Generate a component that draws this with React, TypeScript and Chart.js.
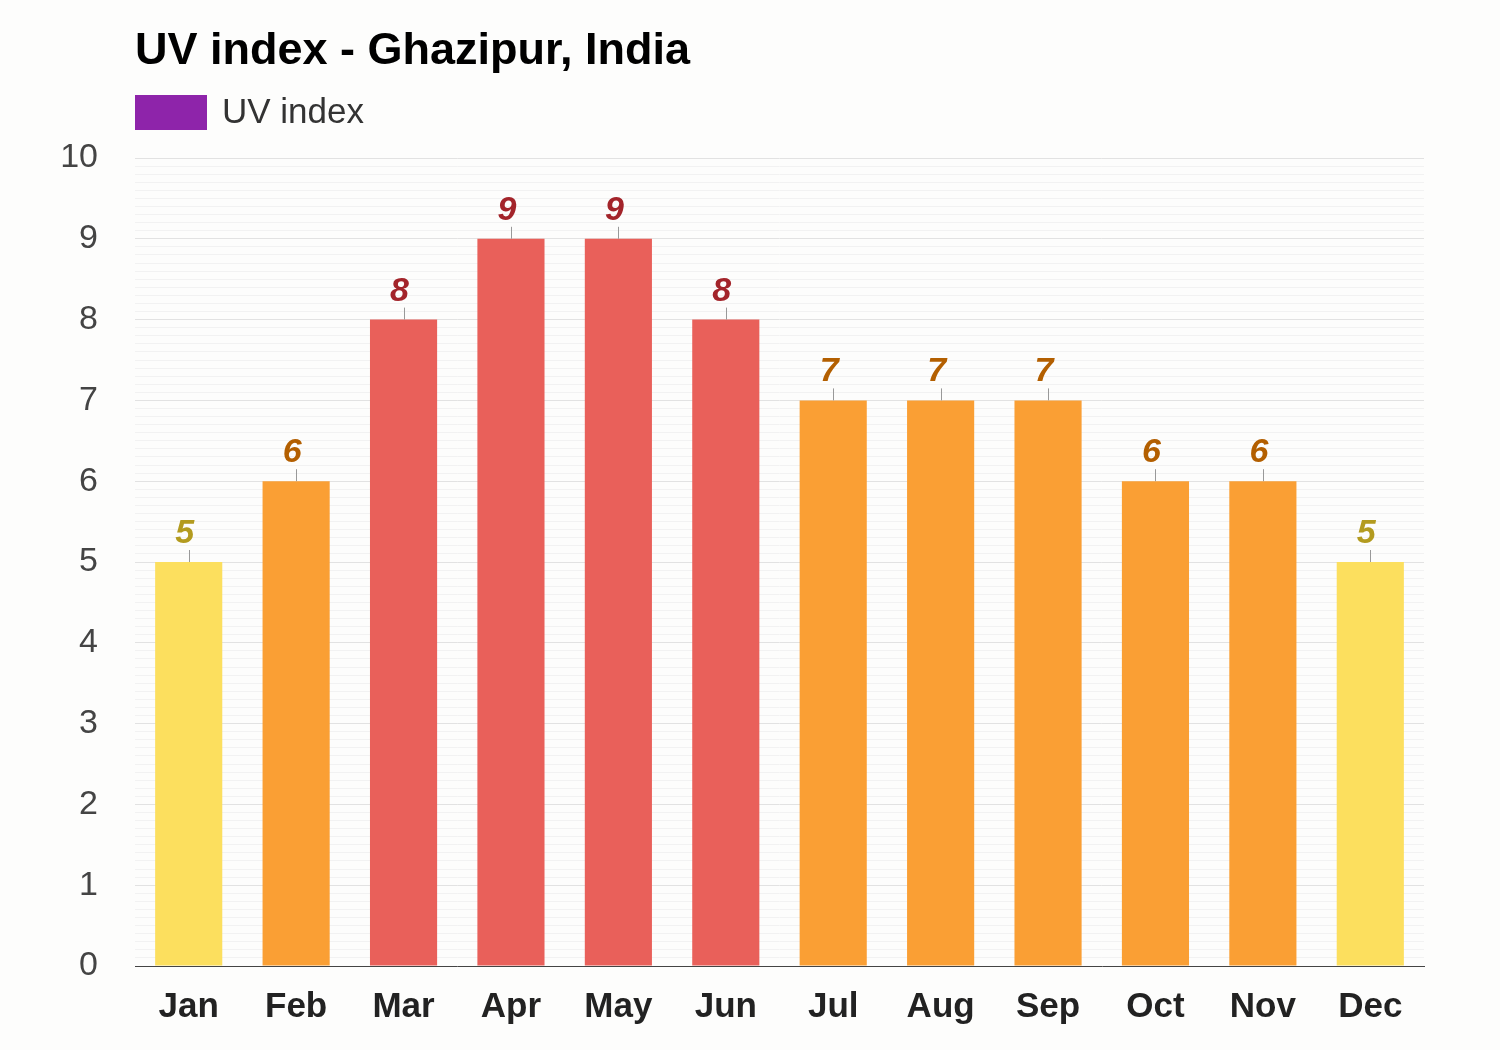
import React, { useEffect, useRef } from "react";
import { Chart, registerables } from "chart.js";

Chart.register(...registerables);

const TITLE = "UV index - Ghazipur, India";
const SERIES_LABEL = "UV index";
const MONTHS = ["Jan", "Feb", "Mar", "Apr", "May", "Jun", "Jul", "Aug", "Sep", "Oct", "Nov", "Dec"];
const UV_VALUES = [5, 6, 8, 9, 9, 8, 7, 7, 7, 6, 6, 5];
const Y_MIN = 0;
const Y_MAX = 10;
const LEGEND_COLOR = "#8e24aa";

const FONT = "'Liberation Sans', Arial, Helvetica, sans-serif";

function barColor(v: number): string {
  if (v >= 8) return "#e9605a";
  if (v >= 6) return "#fa9f34";
  return "#fcdf5e";
}
function labelColor(v: number): string {
  if (v >= 8) return "#a3242a";
  if (v >= 6) return "#b35f00";
  return "#b39b1f";
}

const headerPlugin = {
  id: "header",
  beforeDraw(chart: any) {
    const { ctx } = chart;
    ctx.save();
    ctx.fillStyle = "#fdfdfc";
    ctx.fillRect(0, 0, chart.width, chart.height);
    ctx.fillStyle = "#000";
    ctx.font = `bold 45px ${FONT}`;
    ctx.textAlign = "left";
    ctx.textBaseline = "alphabetic";
    ctx.fillText(TITLE, 135, 64);
    ctx.fillStyle = LEGEND_COLOR;
    ctx.fillRect(135, 95, 72, 35);
    ctx.fillStyle = "#333";
    ctx.font = `35px ${FONT}`;
    ctx.textBaseline = "middle";
    ctx.fillText(SERIES_LABEL, 222, 113);
    ctx.restore();
  },
};

const valueLabelPlugin = {
  id: "valueLabels",
  afterDatasetsDraw(chart: any) {
    const { ctx } = chart;
    const meta = chart.getDatasetMeta(0);
    const data = chart.data.datasets[0].data as number[];
    ctx.save();
    meta.data.forEach((bar: any, i: number) => {
      const v = data[i];
      ctx.strokeStyle = "#999";
      ctx.lineWidth = 1;
      ctx.beginPath();
      ctx.moveTo(Math.round(bar.x) + 0.5, bar.y);
      ctx.lineTo(Math.round(bar.x) + 0.5, bar.y - 12);
      ctx.stroke();
      ctx.fillStyle = labelColor(v);
      ctx.font = `italic bold 34px ${FONT}`;
      ctx.textAlign = "center";
      ctx.textBaseline = "alphabetic";
      ctx.fillText(String(v), bar.x - 4, bar.y - 19);
    });
    ctx.restore();
  },
};

export default function App() {
  const ref = useRef<HTMLCanvasElement | null>(null);
  useEffect(() => {
    if (!ref.current) return;
    const chart = new Chart(ref.current, {
      type: "bar",
      data: {
        labels: MONTHS,
        datasets: [
          {
            label: SERIES_LABEL,
            data: UV_VALUES,
            backgroundColor: UV_VALUES.map(barColor),
            borderWidth: 0,
            barPercentage: 0.625,
            categoryPercentage: 1,
          },
        ],
      },
      options: {
        animation: false,
        responsive: false,
        maintainAspectRatio: false,
        layout: { padding: { top: 158, right: 76, left: 0, bottom: 0 } },
        plugins: {
          legend: { display: false },
          title: { display: false },
          tooltip: { enabled: false },
        },
        scales: {
          x: {
            grid: { display: false, drawTicks: false },
            border: { display: true, color: "#444", width: 1 },
            ticks: {
              color: "#222",
              font: { family: FONT, size: 35, weight: "bold" },
              padding: 20,
            },
            afterFit(scale: any) {
              scale.height = 84;
            },
          },
          y: {
            min: Y_MIN,
            max: Y_MAX,
            border: { display: false },
            grid: {
              drawTicks: false,
              color: (c: any) => {
                const v = c.tick ? c.tick.value : 0;
                return Math.abs(v - Math.round(v)) < 1e-6 ? "#e2e2e2" : "#f2f2f2";
              },
              lineWidth: 1,
            },
            ticks: {
              stepSize: 0.1,
              autoSkip: false,
              color: "#444",
              font: { family: FONT, size: 34 },
              padding: 37,
              callback: (v: any) => {
                const n = Number(v);
                return Math.abs(n - Math.round(n)) < 1e-6 ? String(Math.round(n)) : "";
              },
            },
            afterFit(scale: any) {
              scale.width = 135;
            },
          },
        },
      },
      plugins: [headerPlugin, valueLabelPlugin],
    });
    return () => chart.destroy();
  }, []);
  return (
    <div style={{ position: "fixed", left: 0, top: 0, width: 1500, height: 1050, background: "#fdfdfc" }}>
      <canvas ref={ref} width={1500} height={1050} style={{ width: 1500, height: 1050, display: "block" }} />
    </div>
  );
}
